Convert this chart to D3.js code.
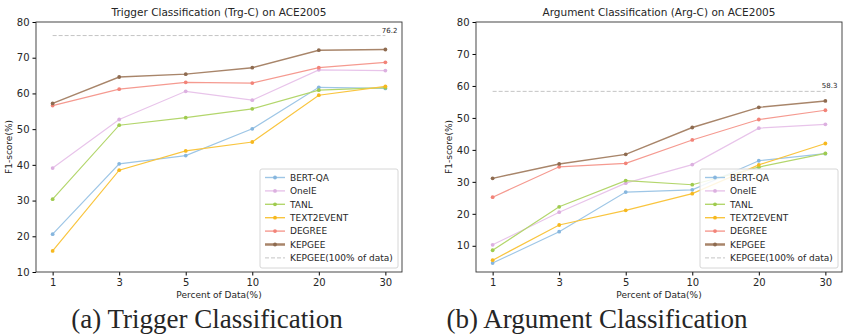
<!DOCTYPE html>
<html>
<head>
<meta charset="utf-8">
<script src="https://cdn.jsdelivr.net/npm/d3@7"></script>
<style>
  body { margin: 0; background: white; }
  text { font-family: "DejaVu Sans", sans-serif; fill: #262626; }
</style>
</head>
<body>
<script>
const percents = ['1', '3', '5', '10', '20', '30'];
const methods = ['BERT-QA', 'OneIE', 'TANL', 'TEXT2EVENT', 'DEGREE', 'KEPGEE'];
const colors = ['#9ec6e6', '#e8c4ea', '#b3d66c', '#f9c53f', '#f59a90', '#a8856a'];
const dotColors = ['#86b6de', '#dcb0e0', '#9fcb4f', '#f6b81e', '#f28378', '#8e6b50'];

// trigger classification (Trg-C)
const trgBertQA = [20.6, 40.3, 42.6, 50.1, 61.7, 61.4];
const trgOneIE = [39.1, 52.7, 60.6, 58.1, 66.6, 66.4];
const trgTANL = [30.4, 51.1, 53.2, 55.7, 60.9, 61.6];
const trgText2Event = [15.9, 38.5, 43.9, 46.4, 59.5, 62.0];
const trgDegree = [56.6, 61.2, 63.1, 62.9, 67.2, 68.7];
const trgKepgee = [57.2, 64.6, 65.4, 67.2, 72.1, 72.3];
const trgFull = 76.2;

// argument classification (Arg-C)
const argBertQA = [4.6, 14.4, 26.8, 27.5, 36.6, 38.8];
const argOneIE = [10.3, 20.5, 29.6, 35.4, 46.8, 48.0];
const argTANL = [8.6, 22.2, 30.4, 29.1, 34.6, 38.9];
const argText2Event = [5.5, 16.5, 21.1, 26.3, 35.3, 42.0];
const argDegree = [25.2, 34.7, 35.8, 43.1, 49.5, 52.4];
const argKepgee = [31.1, 35.6, 38.6, 47.0, 53.3, 55.3];
const argFull = 58.3;

const yTicks = [10, 20, 30, 40, 50, 60, 70, 80];

const W = 844, H = 336;
const svg = d3.select('body').append('svg')
  .attr('width', W)
  .attr('height', H);

function drawPanel(opt) {
  const { left, right, top, bottom, yDomain, series, full, title, caption, capX } = opt;
  const g = svg.append('g');

  // categorical x with matplotlib-like 5% margins
  const x = d3.scalePoint().domain(percents).range([left, right]).padding(0.25);
  const y = d3.scaleLinear().domain(yDomain).range([bottom, top]);

  // reference line
  g.append('line')
    .attr('x1', x(percents[0]))
    .attr('x2', x(percents[percents.length - 1]))
    .attr('y1', y(full))
    .attr('y2', y(full))
    .attr('stroke', '#c4c4c4')
    .attr('stroke-width', 1)
    .attr('stroke-dasharray', '4,2');
  g.append('text')
    .attr('x', x(percents[percents.length - 1]) + 12)
    .attr('y', y(full) - 3)
    .attr('font-size', 7)
    .attr('text-anchor', 'end')
    .text(full);

  const line = d3.line().x((d, i) => x(percents[i])).y(d => y(d));
  series.forEach((s, k) => {
    g.append('path')
      .datum(s)
      .attr('d', line)
      .attr('fill', 'none')
      .attr('stroke', colors[k])
      .attr('stroke-width', k === 5 ? 1.4 : 1.2);
    g.selectAll(null)
      .data(s)
      .enter()
      .append('circle')
      .attr('cx', (d, i) => x(percents[i]))
      .attr('cy', d => y(d))
      .attr('r', 1.9)
      .attr('fill', dotColors[k]);
  });

  // axes
  g.append('g')
    .attr('transform', `translate(0,${bottom})`)
    .call(d3.axisBottom(x).tickSize(3.5).tickPadding(3))
    .call(a => a.selectAll('text').attr('font-size', 10).attr('font-family', 'DejaVu Sans'));
  g.append('g')
    .attr('transform', `translate(${left},0)`)
    .call(d3.axisLeft(y).tickValues(yTicks.filter(v => v >= yDomain[0])).tickSize(3.5).tickPadding(3))
    .call(a => a.selectAll('text').attr('font-size', 10).attr('font-family', 'DejaVu Sans'));
  svg.selectAll('.domain').remove();

  g.append('rect')
    .attr('x', left)
    .attr('y', top)
    .attr('width', right - left)
    .attr('height', bottom - top)
    .attr('fill', 'none')
    .attr('stroke', '#333')
    .attr('stroke-width', 0.9);

  g.append('text')
    .attr('x', (left + right) / 2)
    .attr('y', top - 6)
    .attr('text-anchor', 'middle')
    .attr('font-size', 10.5)
    .text(title);
  g.append('text')
    .attr('x', (left + right) / 2)
    .attr('y', 298)
    .attr('text-anchor', 'middle')
    .attr('font-size', 9)
    .text('Percent of Data(%)');
  g.append('text')
    .attr('transform', `translate(${left - 24},${(top + bottom) / 2}) rotate(-90)`)
    .attr('text-anchor', 'middle')
    .attr('font-size', 9)
    .text('F1-score(%)');

  // legend
  const lx = right - 142, ly = 169, lw = 138, lh = 99;
  const lg = g.append('g');
  lg.append('rect')
    .attr('x', lx)
    .attr('y', ly)
    .attr('width', lw)
    .attr('height', lh)
    .attr('rx', 2)
    .attr('fill', 'white')
    .attr('fill-opacity', 0.85)
    .attr('stroke', '#d6d6d6');
  const labels = methods.concat(['KEPGEE(100% of data)']);
  labels.forEach((m, k) => {
    const yy = ly + 8.5 + k * 13.4;
    if (k < 6) {
      lg.append('line')
        .attr('x1', lx + 5).attr('x2', lx + 25)
        .attr('y1', yy).attr('y2', yy)
        .attr('stroke', colors[k])
        .attr('stroke-width', k === 5 ? 2.5 : 1.4);
      lg.append('circle')
        .attr('cx', lx + 15).attr('cy', yy).attr('r', 1.9)
        .attr('fill', dotColors[k]);
    } else {
      lg.append('line')
        .attr('x1', lx + 5).attr('x2', lx + 25)
        .attr('y1', yy).attr('y2', yy)
        .attr('stroke', '#c4c4c4')
        .attr('stroke-dasharray', '4,2');
    }
    lg.append('text')
      .attr('x', lx + 30)
      .attr('y', yy + 3.3)
      .attr('font-size', 9)
      .text(m);
  });

  svg.append('text')
    .attr('x', capX)
    .attr('y', 328)
    .attr('text-anchor', 'middle')
    .attr('font-size', 27)
    .style('font-family', '"Liberation Serif", serif')
    .text(caption);
}

drawPanel({
  left: 36, right: 402, top: 22, bottom: 272,
  yDomain: [10, 80],
  series: [trgBertQA, trgOneIE, trgTANL, trgText2Event, trgDegree, trgKepgee],
  full: trgFull,
  title: 'Trigger Classification (Trg-C) on ACE2005',
  caption: '(a) Trigger Classification',
  capX: 207
});

drawPanel({
  left: 476, right: 842, top: 22, bottom: 272,
  yDomain: [1.8, 80],
  series: [argBertQA, argOneIE, argTANL, argText2Event, argDegree, argKepgee],
  full: argFull,
  title: 'Argument Classification (Arg-C) on ACE2005',
  caption: '(b) Argument Classification',
  capX: 597
});
</script>
</body>
</html>
